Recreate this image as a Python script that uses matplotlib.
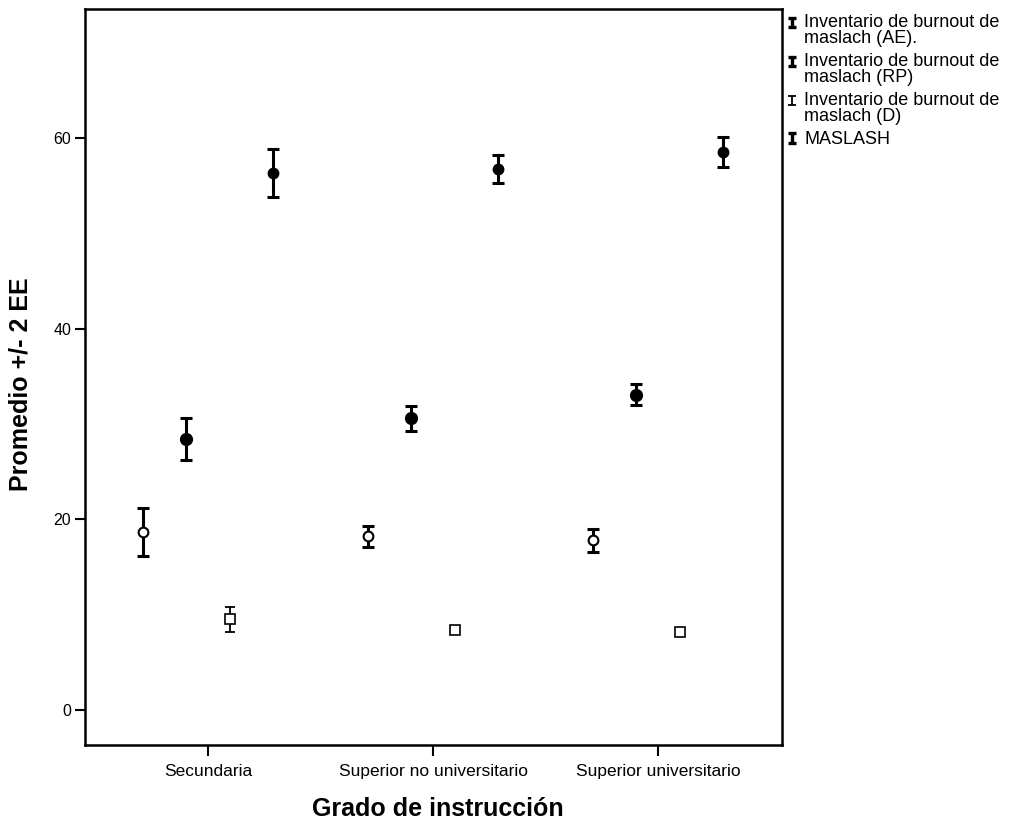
import matplotlib
matplotlib.use("Agg")
import matplotlib.pyplot as plt
import numpy as np
from matplotlib.path import Path
from matplotlib.lines import Line2D

plt.rcParams['font.family'] = ['Liberation Sans', 'DejaVu Sans']

categories = ["Secundaria", "Superior no universitario", "Superior universitario"]
series_names = ["Inventario de burnout de\nmaslach (AE).",
                "Inventario de burnout de\nmaslach (RP)",
                "Inventario de burnout de\nmaslach (D)",
                "MASLASH"]
mean_AE = [18.7, 18.2, 17.8]
err_AE = [2.5, 1.1, 1.2]
mean_RP = [28.4, 30.6, 33.1]
err_RP = [2.2, 1.3, 1.1]
mean_D = [9.5, 8.4, 8.2]
err_D = [1.3, 0.4, 0.4]
mean_MAS = [56.4, 56.8, 58.6]
err_MAS = [2.5, 1.5, 1.6]
yticks = [0, 20, 40, 60]

fig = plt.figure(figsize=(10.12, 8.22), dpi=100)
ax = fig.add_axes([85/1012, 1-745/822, (782-85)/1012, (745-9)/822])

x = np.arange(len(categories))
offsets = [-0.289, -0.098, 0.098, 0.289]
styles = [
    dict(marker='o', mfc='white', mec='black', ms=7, mew=1.5, elinewidth=2.2, capthick=2.2, capsize=4),
    dict(marker='o', mfc='black', mec='black', ms=8, mew=1.5, elinewidth=2.2, capthick=2.2, capsize=4),
    dict(marker='s', mfc='white', mec='black', ms=6.5, mew=1.2, elinewidth=1.3, capthick=1.3, capsize=3.5),
    dict(marker='o', mfc='black', mec='black', ms=7, mew=1.5, elinewidth=2.2, capthick=2.2, capsize=4),
]
means = [mean_AE, mean_RP, mean_D, mean_MAS]
errs = [err_AE, err_RP, err_D, err_MAS]
for m, e, off, st in zip(means, errs, offsets, styles):
    ax.errorbar(x + off, m, yerr=e, fmt='none', ecolor='black',
                elinewidth=st['elinewidth'], capthick=st['capthick'], capsize=st['capsize'], zorder=2)
    ax.plot(x + off, m, linestyle='none', marker=st['marker'], mfc=st['mfc'], mec=st['mec'],
            ms=st['ms'], mew=st['mew'], zorder=3)

ax.set_xlim(-0.547, 2.551)
ax.set_ylim(-3.7, 73.6)
ax.set_xticks(x)
ax.set_xticklabels(categories, fontsize=12.5)
ax.set_yticks(yticks)
ax.set_yticklabels([str(t) for t in yticks], fontsize=11.5)
ax.tick_params(axis='x', length=8, width=1.5, pad=6)
ax.tick_params(axis='y', length=7, width=1.5, pad=3)
for s in ax.spines.values():
    s.set_linewidth(1.8)

ax.set_ylabel("Promedio +/- 2 EE", fontsize=18, fontweight='bold')
ax.yaxis.set_label_coords(-0.076, 0.49)
ax.set_xlabel("Grado de instrucción", fontsize=18, fontweight='bold')
ax.xaxis.set_label_coords(0.506, -0.07)

def i_marker(shift, h, w):
    verts = [(-w, shift - h), (w, shift - h), (0, shift - h), (0, shift + h), (-w, shift + h), (w, shift + h)]
    codes = [Path.MOVETO, Path.LINETO, Path.MOVETO, Path.LINETO, Path.MOVETO, Path.LINETO]
    p = Path(verts, codes)
    ms = 2 * max(abs(v) for xy in verts for v in xy)
    return p, ms

handles = []
for i, name in enumerate(series_names):
    shift = 6.0 if "\n" in name else 0.0
    p, ms = i_marker(shift, 3.4, 2.8)
    lw = 1.3 if i == 2 else 2.4
    handles.append(Line2D([], [], linestyle='none', marker=p, markersize=ms,
                          mfc='none', mec='black', mew=lw))

leg = fig.legend(handles, series_names, loc='upper left',
                 bbox_to_anchor=(787/1012, 1 - 14/822), bbox_transform=fig.transFigure,
                 frameon=False, fontsize=13, handlelength=0.6, handletextpad=0.35,
                 borderpad=0, borderaxespad=0, labelspacing=0.35)
for t in leg.get_texts():
    t.set_linespacing(0.9)

fig.savefig("out.png", dpi=100)
